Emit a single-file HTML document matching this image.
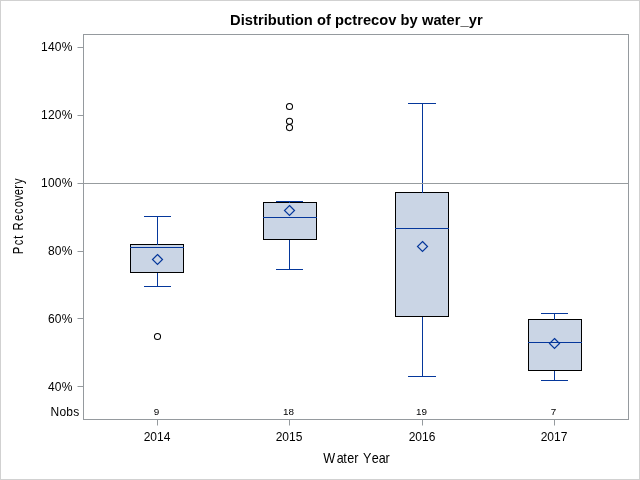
<!DOCTYPE html>
<html>
<head>
<meta charset="utf-8">
<title>Distribution of pctrecov by water_yr</title>
<style>
html,body{margin:0;padding:0;background:#fff;}
body{width:640px;height:480px;overflow:hidden;position:relative;font-family:"Liberation Sans",Arial,sans-serif;color:#000;}
#frame{position:absolute;left:0;top:0;width:638px;height:478px;border:1px solid #d1d1d1;}
svg{position:absolute;left:0;top:0;}
.t{position:absolute;white-space:nowrap;line-height:1;}
.v{font-size:12px;}
.yl{text-align:right;width:60px;left:12.7px;letter-spacing:0.25px;}
.xl{text-align:center;width:60px;}
.n{font-size:9.9px;text-align:center;width:40px;margin-left:-0.4px;}
#title{font-size:14.67px;font-weight:bold;left:230px;top:13px;letter-spacing:0.05px;}
</style>
</head>
<body>
<div id="frame"></div>
<svg width="640" height="480" viewBox="0 0 640 480">
  <g shape-rendering="crispEdges" fill="none">
    <!-- boxes -->
    <g fill="#cad5e5" stroke="#000" stroke-width="1">
      <rect x="130.5" y="244.5" width="53" height="28"/>
      <rect x="263.5" y="202.5" width="53" height="37"/>
      <rect x="395.5" y="192.5" width="53" height="124"/>
      <rect x="528.5" y="319.5" width="53" height="51"/>
    </g>
    <g stroke="#05379b" stroke-width="1">
      <!-- 2014 -->
      <line x1="157.5" y1="216" x2="157.5" y2="245"/>
      <line x1="157.5" y1="273" x2="157.5" y2="287"/>
      <line x1="144" y1="216.5" x2="171" y2="216.5"/>
      <line x1="144" y1="286.5" x2="171" y2="286.5"/>
      <line x1="130" y1="247.5" x2="184" y2="247.5"/>
      <!-- 2015 -->
      <line x1="289.5" y1="201" x2="289.5" y2="203"/>
      <line x1="289.5" y1="240" x2="289.5" y2="270"/>
      <line x1="276" y1="201.5" x2="303" y2="201.5"/>
      <line x1="276" y1="269.5" x2="303" y2="269.5"/>
      <line x1="263" y1="217.5" x2="317" y2="217.5"/>
      <!-- 2016 -->
      <line x1="422.5" y1="103" x2="422.5" y2="193"/>
      <line x1="422.5" y1="317" x2="422.5" y2="377"/>
      <line x1="408" y1="103.5" x2="436" y2="103.5"/>
      <line x1="408" y1="376.5" x2="436" y2="376.5"/>
      <line x1="395" y1="228.5" x2="449" y2="228.5"/>
      <!-- 2017 -->
      <line x1="554.5" y1="313" x2="554.5" y2="320"/>
      <line x1="554.5" y1="371" x2="554.5" y2="381"/>
      <line x1="541" y1="313.5" x2="568" y2="313.5"/>
      <line x1="541" y1="380.5" x2="568" y2="380.5"/>
      <line x1="528" y1="342.5" x2="582" y2="342.5"/>
    </g>
    <!-- reference line -->
    <line x1="84" y1="183.5" x2="628" y2="183.5" stroke="#979c9f" stroke-width="1"/>
    <!-- axes -->
    <g stroke="#959a9e" stroke-width="1">
      <rect x="83.5" y="34.5" width="545" height="385"/>
    </g>
  </g>
  <!-- ticks -->
  <g stroke="#959a9e" stroke-width="1" fill="none">
      <line x1="77.5" y1="47.5" x2="83" y2="47.5"/>
      <line x1="77.5" y1="115.5" x2="83" y2="115.5"/>
      <line x1="77.5" y1="183.5" x2="83" y2="183.5"/>
      <line x1="77.5" y1="251.5" x2="83" y2="251.5"/>
      <line x1="77.5" y1="318.5" x2="83" y2="318.5"/>
      <line x1="77.5" y1="386.5" x2="83" y2="386.5"/>
      <line x1="157.5" y1="420" x2="157.5" y2="425.5"/>
      <line x1="289.5" y1="420" x2="289.5" y2="425.5"/>
      <line x1="422.5" y1="420" x2="422.5" y2="425.5"/>
      <line x1="554.5" y1="420" x2="554.5" y2="425.5"/>
  </g>
  <!-- mean diamonds -->
  <g fill="none" stroke="#05379b" stroke-width="1.2">
    <path d="M157.5 254.5 L162.5 259.5 L157.5 264.5 L152.5 259.5 Z"/>
    <path d="M289.5 205.5 L294.5 210.5 L289.5 215.5 L284.5 210.5 Z"/>
    <path d="M422.5 241.5 L427.5 246.5 L422.5 251.5 L417.5 246.5 Z"/>
    <path d="M554.5 338.5 L559.5 343.5 L554.5 348.5 L549.5 343.5 Z"/>
  </g>
  <!-- outliers -->
  <g fill="none" stroke="#000" stroke-width="1.05">
    <circle cx="157.5" cy="336.5" r="3.05"/>
    <circle cx="289.5" cy="106.5" r="3.05"/>
    <circle cx="289.5" cy="121.3" r="3.05"/>
    <circle cx="289.5" cy="127.6" r="3.05"/>
  </g>
  <g font-family="'Liberation Sans', Arial, sans-serif" font-size="14" fill="#000" style="font-kerning:none">
    <text id="xlab" transform="translate(323,463) scale(0.9,1)" x="0.28 15.27 22.53 27.00 34.70 39.64 44.58 54.11 62.05 69.48" y="0">Water Year</text>
    <text id="ylab" transform="translate(23,253.8) rotate(-90) scale(0.8,1)" x="-0.69 10.73 18.98 24.06 29.14 41.06 49.73 58.25 66.23 73.19 81.41 87.36" y="0">Pct Recovery</text>
  </g>
</svg>
<div id="title" class="t">Distribution of pctrecov by water_yr</div>
<div class="t v yl" style="top:41px;">140%</div>
<div class="t v yl" style="top:109px;">120%</div>
<div class="t v yl" style="top:177px;">100%</div>
<div class="t v yl" style="top:245px;">80%</div>
<div class="t v yl" style="top:313px;">60%</div>
<div class="t v yl" style="top:381px;">40%</div>
<div class="t v" style="left:50.5px;top:406px;letter-spacing:0.25px;">Nobs</div>
<div class="t n" style="left:137px;top:407px;">9</div>
<div class="t n" style="left:269px;top:407px;">18</div>
<div class="t n" style="left:402px;top:407px;">19</div>
<div class="t n" style="left:534px;top:407px;">7</div>
<div class="t v xl" style="left:127px;top:431px;">2014</div>
<div class="t v xl" style="left:259px;top:431px;">2015</div>
<div class="t v xl" style="left:392px;top:431px;">2016</div>
<div class="t v xl" style="left:524px;top:431px;">2017</div>
</body>
</html>
